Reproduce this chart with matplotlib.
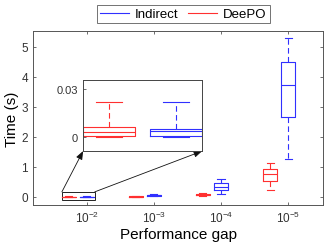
import matplotlib.pyplot as plt
from matplotlib.lines import Line2D

plt.rcParams['font.family'] = ['Liberation Sans', 'DejaVu Sans']
plt.rcParams['mathtext.fontset'] = 'custom'
plt.rcParams['mathtext.rm'] = 'Liberation Sans'
plt.rcParams['mathtext.it'] = 'Liberation Sans'

gaps = ['$\\mathregular{10^{-2}}$', '$\\mathregular{10^{-3}}$',
        '$\\mathregular{10^{-4}}$', '$\\mathregular{10^{-5}}$']

# five-number summaries (seconds)
deepo_min = [0.0, 0.005, 0.03, 0.23]
deepo_q1 = [0.0004, 0.01, 0.05, 0.53]
deepo_med = [0.0033, 0.015, 0.075, 0.77]
deepo_q3 = [0.006, 0.02, 0.10, 0.94]
deepo_max = [0.022, 0.03, 0.13, 1.14]

ind_min = [0.0, 0.02, 0.09, 1.28]
ind_q1 = [0.0004, 0.035, 0.23, 2.66]
ind_med = [0.0035, 0.05, 0.34, 3.72]
ind_q3 = [0.005, 0.065, 0.48, 4.48]
ind_max = [0.022, 0.09, 0.61, 5.28]

RED = '#ff3030'
BLUE = '#3030ff'

def stats(mn, q1, md, q3, mx):
    return [dict(whislo=a, q1=b, med=c, q3=d, whishi=e, fliers=[])
            for a, b, c, d, e in zip(mn, q1, md, q3, mx)]

red_st = stats(deepo_min, deepo_q1, deepo_med, deepo_q3, deepo_max)
blue_st = stats(ind_min, ind_q1, ind_med, ind_q3, ind_max)

pos = [1, 2, 3, 4]
red_pos = [p - 0.27 for p in pos]
blue_pos = pos
w = 0.21

def style(c):
    return dict(boxprops=dict(color=c, lw=0.8),
                medianprops=dict(color=c, lw=0.8),
                whiskerprops=dict(color=c, lw=0.8, ls=(0, (5, 3))),
                capprops=dict(color=c, lw=0.8))

fig = plt.figure(figsize=(3.27, 2.51), dpi=100)
ax = fig.add_axes([0.101, 0.179, 0.887, 0.694])
ax.bxp(red_st, positions=red_pos, widths=w, showfliers=False, capwidths=w / 2, **style(RED))
ax.bxp(blue_st, positions=blue_pos, widths=w, showfliers=False, capwidths=w / 2, **style(BLUE))
ax.set_xlim(0.2, 4.52)
ax.set_ylim(-0.27, 5.53)
ax.set_xticks(pos)
ax.set_xticklabels(gaps, fontsize=8.5)
ax.set_yticks([0, 1, 2, 3, 4, 5])
ax.tick_params(direction='in', length=2.5, width=0.5, labelsize=8.5, top=True, right=True, colors='#333333')
for s in ax.spines.values():
    s.set_color('#555555')
    s.set_linewidth(0.7)
ax.set_xlabel('Performance gap', fontsize=11, labelpad=1)
ax.set_ylabel('Time (s)', fontsize=11, labelpad=2)

# zoom rectangle
ax.add_patch(plt.Rectangle((0.63, -0.1), 0.49, 0.27, fill=False, ec='#222222', lw=0.7))

# inset
ins = fig.add_axes([0.254, 0.394, 0.364, 0.283])
ins.bxp(red_st[:1], positions=red_pos[:1], widths=w, showfliers=False, capwidths=w / 2, **style(RED))
ins.bxp(blue_st[:1], positions=blue_pos[:1], widths=w, showfliers=False, capwidths=w / 2, **style(BLUE))
ins.set_xlim(0.625, 1.105)
ins.set_ylim(-0.00875, 0.0356)
ins.set_xticks([])
ins.set_yticks([0, 0.03])
ins.set_yticklabels(['0', '0.03'])
ins.tick_params(direction='in', length=2.5, width=0.5, labelsize=8, colors='#333333')
for s in ins.spines.values():
    s.set_color('#444444')
    s.set_linewidth(0.7)

for xa, xd in [(0, 0.63), (1, 1.12)]:
    ax.annotate('', xy=(xa, 0), xycoords=ins.transAxes, xytext=(xd, 0.17), textcoords='data',
                arrowprops=dict(arrowstyle='-|>,head_length=0.5,head_width=0.2', color='#111111', lw=0.6,
                                shrinkA=0, shrinkB=0))

handles = [Line2D([], [], color=BLUE, lw=0.8), Line2D([], [], color=RED, lw=0.8)]
leg = fig.legend(handles, ['Indirect', 'DeePO'], loc='center', bbox_to_anchor=(0.56, 0.94), ncol=2,
                 fontsize=9.5, frameon=True, fancybox=False, edgecolor='#333333', handlelength=2.2,
                 borderpad=0.25, columnspacing=0.8, handletextpad=0.4)
leg.get_frame().set_linewidth(0.6)

fig.savefig('out.png', dpi=100)
